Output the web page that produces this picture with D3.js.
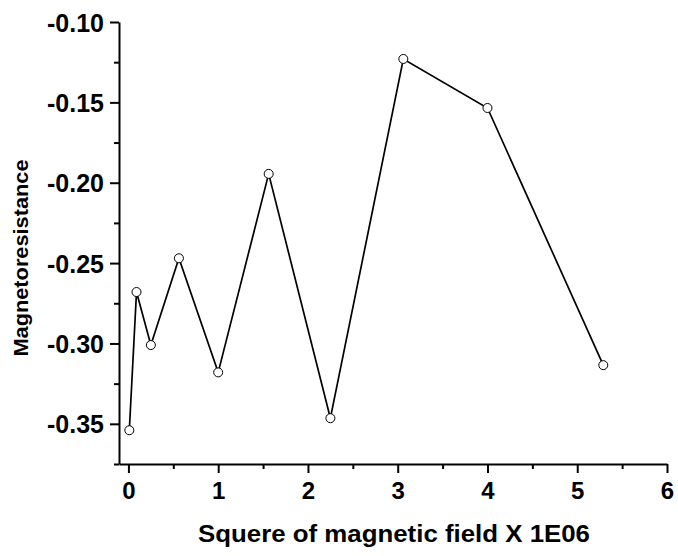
<!DOCTYPE html>
<html>
<head>
<meta charset="utf-8">
<script src="https://cdn.jsdelivr.net/npm/d3@7"></script>
<style>
  body { margin: 0; background: #fff; }
  svg text { font-family: "Liberation Sans", Arial, sans-serif; font-weight: bold; fill: #000; }
</style>
</head>
<body>
<div id="chart"></div>
<script>
// field squared (x 1E06) and magnetoresistance
const fieldSq = [0.01, 0.09, 0.25, 0.5625, 1, 1.5625, 2.25, 3.0625, 4, 5.29];
const magRes = [-0.354, -0.268, -0.301, -0.247, -0.318, -0.1945, -0.3465, -0.123, -0.1535, -0.3135];
const xTicks = [0, 1, 2, 3, 4, 5, 6];
const yTicks = [-0.35, -0.30, -0.25, -0.20, -0.15, -0.10];

const width = 678, height = 556;
const margin = { top: 22, right: 11, bottom: 92, left: 119 };

const svg = d3.select("#chart")
  .append("svg")
  .attr("width", width)
  .attr("height", height);

const xScale = d3.scaleLinear()
  .domain([-0.105, 6])
  .range([margin.left, width - margin.right]);

const yScale = d3.scaleLinear()
  .domain([-0.375, -0.10])
  .range([height - margin.bottom, margin.top]);

// minor ticks
const xMinor = d3.range(0.5, 6, 1);
const yMinor = d3.range(-0.375, -0.10, 0.05);

// plain hyphen minus like the original
const yFmt = d => d3.format(".2f")(d).replace("\u2212", "-");

const xAxis = svg.append("g")
  .attr("transform", `translate(0, ${height - margin.bottom})`)
  .call(d3.axisBottom(xScale).tickValues(xTicks).tickFormat(d3.format("d")).tickSize(9).tickSizeOuter(0).tickPadding(9));

svg.append("g")
  .attr("transform", `translate(0, ${height - margin.bottom})`)
  .call(d3.axisBottom(xScale).tickValues(xMinor).tickFormat("").tickSize(5).tickSizeOuter(0))
  .select(".domain").remove();

const yAxis = svg.append("g")
  .attr("transform", `translate(${margin.left}, 0)`)
  .call(d3.axisLeft(yScale).tickValues(yTicks).tickFormat(yFmt).tickSize(9).tickSizeOuter(0).tickPadding(6));

svg.append("g")
  .attr("transform", `translate(${margin.left}, 0)`)
  .call(d3.axisLeft(yScale).tickValues(yMinor).tickFormat("").tickSize(5).tickSizeOuter(0))
  .select(".domain").remove();

svg.selectAll(".domain, .tick line").attr("stroke", "#000").attr("stroke-width", 2);
xAxis.selectAll("text").style("font-size", "24px");
yAxis.selectAll("text").style("font-size", "25px").attr("dy", "0.36em");

// axis titles
svg.append("text")
  .attr("x", 394)
  .attr("y", 542)
  .attr("text-anchor", "middle")
  .attr("textLength", 392)
  .attr("lengthAdjust", "spacingAndGlyphs")
  .style("font-size", "23px")
  .text("Squere of magnetic field X 1E06");

svg.append("text")
  .attr("transform", `translate(27.5, 258) rotate(-90)`)
  .attr("text-anchor", "middle")
  .attr("textLength", 197)
  .attr("lengthAdjust", "spacingAndGlyphs")
  .style("font-size", "21px")
  .text("Magnetoresistance");

const pts = fieldSq.map((x, i) => ({ x, y: magRes[i] }));

svg.append("path")
  .datum(pts)
  .attr("fill", "none")
  .attr("stroke", "#000")
  .attr("stroke-width", 1.7)
  .attr("d", d3.line().x(d => xScale(d.x)).y(d => yScale(d.y)));

svg.append("g")
  .selectAll("circle")
  .data(pts)
  .join("circle")
  .attr("cx", d => xScale(d.x))
  .attr("cy", d => yScale(d.y))
  .attr("r", 4.5)
  .attr("fill", "#fff")
  .attr("stroke", "#000")
  .attr("stroke-width", 1);
</script>
</body>
</html>
